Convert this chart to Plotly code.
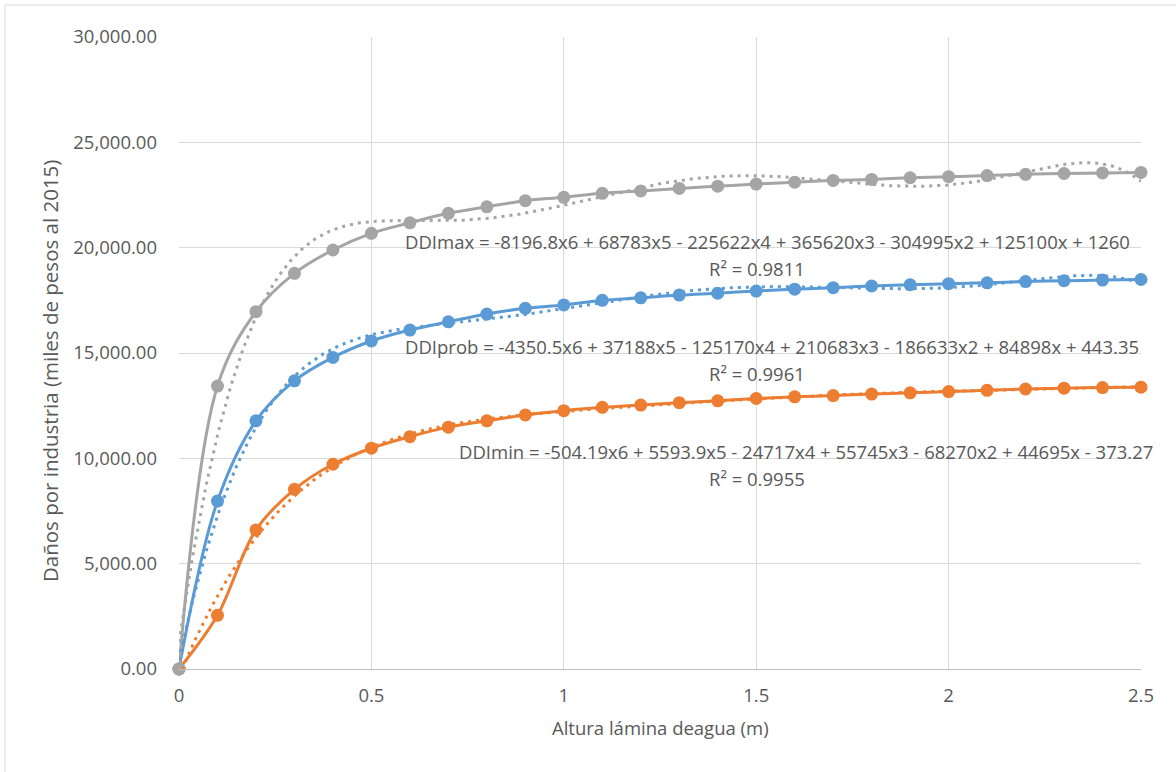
import numpy as np
import plotly.graph_objects as go

# ---- data ----
altura = [0.0, 0.1, 0.2, 0.3, 0.4, 0.5, 0.6, 0.7, 0.8, 0.9, 1.0, 1.1, 1.2,
          1.3, 1.4, 1.5, 1.6, 1.7, 1.8, 1.9, 2.0, 2.1, 2.2, 2.3, 2.4, 2.5]

ddi_max = [0, 13430, 16960, 18780, 19890, 20680, 21180, 21630, 21940, 22230,
           22390, 22580, 22690, 22810, 22920, 23020, 23110, 23190, 23240, 23320,
           23370, 23420, 23480, 23520, 23550, 23570]

ddi_prob = [0, 7970, 11780, 13680, 14790, 15570, 16090, 16480, 16850, 17120,
            17280, 17500, 17620, 17750, 17840, 17940, 18030, 18100, 18180, 18240,
            18290, 18330, 18390, 18430, 18460, 18490]

ddi_min = [0, 2550, 6600, 8530, 9720, 10480, 11030, 11480, 11780, 12060,
           12260, 12420, 12530, 12640, 12730, 12840, 12920, 12980, 13050, 13110,
           13170, 13230, 13290, 13330, 13360, 13380]

eq_max = "DDImax = -8196.8x6 + 68783x5 - 225622x4 + 365620x3 - 304995x2 + 125100x + 1260"
eq_prob = "DDIprob = -4350.5x6 + 37188x5 - 125170x4 + 210683x3 - 186633x2 + 84898x + 443.35"
eq_min = "DDImin = -504.19x6 + 5593.9x5 - 24717x4 + 55745x3 - 68270x2 + 44695x - 373.27"
r2_max = "R² = 0.9811"
r2_prob = "R² = 0.9961"
r2_min = "R² = 0.9955"

x_title = "Altura lámina deagua (m)"
y_title = "Daños por industria (miles de pesos al 2015)"

# ---- styles ----
C_MAX = "#A5A5A5"
C_PROB = "#5B9BD5"
C_MIN = "#ED7D31"
TXT = "#595959"
GRID = "#D9D9D9"
FONT = "Open Sans"

fig = go.Figure()

series = [("DDImin", ddi_min, C_MIN), ("DDIprob", ddi_prob, C_PROB), ("DDImax", ddi_max, C_MAX)]

xs = np.linspace(min(altura), max(altura), 400)

for name, vals, col in series:
    fig.add_trace(go.Scatter(
        x=altura, y=vals, mode="lines+markers", name=name,
        line=dict(color=col, width=3, shape="spline", smoothing=1),
        marker=dict(color=col, size=13),
        cliponaxis=False, showlegend=False))

for name, vals, col in series:
    coef = np.polyfit(altura, vals, 6)
    fig.add_trace(go.Scatter(
        x=xs, y=np.polyval(coef, xs), mode="lines", name=name + " trend",
        line=dict(color=col, width=3, dash="3px,5px"),
        showlegend=False, hoverinfo="skip"))

ann_font = dict(family=FONT, size=18.5, color=TXT)
labels = [
    (eq_max, 0.582, 20313), (r2_max, 1.372, 19032),
    (eq_prob, 0.582, 15330), (r2_prob, 1.372, 14048),
    (eq_min, 0.7225, 10347), (r2_min, 1.372, 9065),
]
annotations = [dict(text=t, x=xv, y=yv, xref="x", yref="y", xanchor="left",
                    yanchor="middle", showarrow=False, font=ann_font)
               for t, xv, yv in labels]

annotations.append(dict(text=x_title, x=0.5, y=-0.0918, xref="paper", yref="paper",
                        xanchor="center", yanchor="middle", showarrow=False,
                        font=dict(family=FONT, size=18.5, color=TXT)))
annotations.append(dict(text=y_title, x=-0.134, y=0.4715, xref="paper", yref="paper",
                        xanchor="center", yanchor="middle", textangle=-90, showarrow=False,
                        font=dict(family=FONT, size=20.5, color=TXT)))

fig.update_layout(
    width=1176, height=772,
    margin=dict(l=179, r=35, t=37, b=103),
    paper_bgcolor="white", plot_bgcolor="white",
    annotations=annotations,
    shapes=[dict(type="rect", xref="paper", yref="paper",
                 x0=-0.1809, x1=1.2, y0=-0.3, y1=1.0506,
                 line=dict(color=GRID, width=1), fillcolor="rgba(0,0,0,0)", layer="below")],
    xaxis=dict(range=[0, 2.5], dtick=0.5, tick0=0, showgrid=True, gridcolor=GRID,
               gridwidth=1, zeroline=False, showline=True, linecolor="#BFBFBF",
               linewidth=1, ticks="", ticklabelstandoff=10,
               tickfont=dict(family=FONT, size=18.5, color=TXT)),
    yaxis=dict(range=[0, 30000], dtick=5000, tickformat=",.2f", showgrid=True,
               gridcolor=GRID, gridwidth=1, zeroline=False, showline=False,
               ticks="", ticklabelstandoff=21,
               tickfont=dict(family=FONT, size=18.5, color=TXT)),
)

fig.write_html("out.html")
